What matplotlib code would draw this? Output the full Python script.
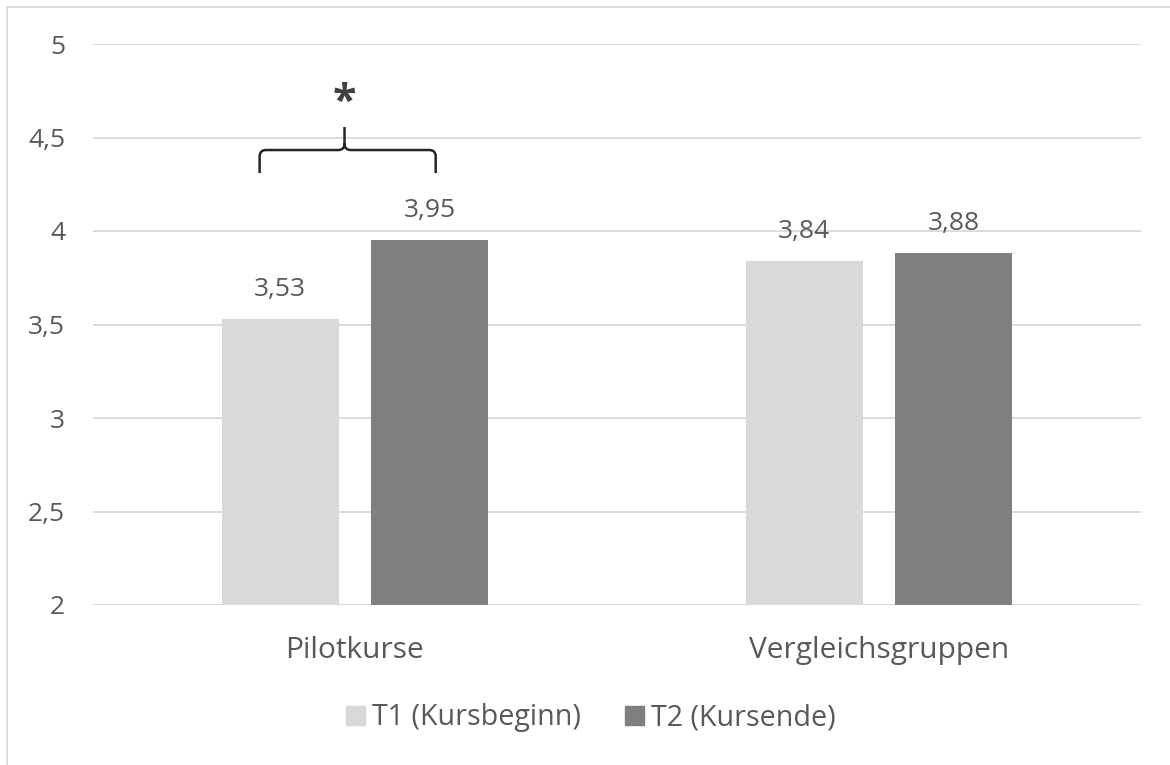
import matplotlib.pyplot as plt
import numpy as np
from matplotlib.path import Path
from matplotlib.patches import PathPatch, Rectangle
from matplotlib.lines import Line2D

plt.rcParams['font.family'] = ['Open Sans', 'DejaVu Sans']

groups = ['Pilotkurse', 'Vergleichsgruppen']
series = ['T1 (Kursbeginn)', 'T2 (Kursende)']
t1_values = [3.53, 3.84]
t2_values = [3.95, 3.88]
colors = ['#D9D9D9', '#7F7F7F']
text_col = '#595959'

fig = plt.figure(figsize=(11.7, 7.65), dpi=100)
ax = fig.add_axes([93 / 1170, 1 - 605 / 765, 1048 / 1170, 561 / 765])

x = np.arange(len(groups))
width = 0.2233
offset = 0.143
for vals, dx, c in [(t1_values, -offset, colors[0]), (t2_values, offset, colors[1])]:
    bars = ax.bar(x + dx, vals, width=width, bottom=0, color=c, zorder=2)
    for b, v in zip(bars, vals):
        ax.annotate(f'{v:.2f}'.replace('.', ','), (b.get_x() + b.get_width() / 2, v),
                    xytext=(0, 21.5), textcoords='offset points', ha='center', va='center',
                    fontsize=19, color=text_col)

ax.set_xlim(-0.5, 1.5)
ax.set_ylim(2, 5)
ax.set_yticks(np.arange(2, 5.01, 0.5))
ax.set_yticklabels([f'{t:g}'.replace('.', ',') for t in np.arange(2, 5.01, 0.5)])
ax.set_xticks(x)
ax.set_xticklabels(groups)
ax.tick_params(axis='y', length=0, pad=20, labelsize=19, labelcolor=text_col)
ax.tick_params(axis='x', length=0, pad=22.5, labelsize=21.5, labelcolor=text_col)
ax.grid(axis='y', color='#D9D9D9', linewidth=1.3, zorder=0)
ax.set_axisbelow(True)
for s in ax.spines.values():
    s.set_visible(False)

# significance brace over Pilotkurse
xl, xr, xc = -0.182, 0.154, -0.02
yb, ym, yt = 4.31, 4.433, 4.556
rx, ry = 0.012, 0.035
verts = [(xl, yb), (xl, ym - ry), (xl, ym), (xl + rx, ym),
         (xc - rx, ym), (xc, ym), (xc, ym + ry),
         (xc, yt),
         (xc, ym + ry), (xc, ym), (xc + rx, ym),
         (xr - rx, ym), (xr, ym), (xr, ym - ry), (xr, yb)]
codes = [Path.MOVETO, Path.LINETO, Path.CURVE3, Path.CURVE3,
         Path.LINETO, Path.CURVE3, Path.CURVE3,
         Path.LINETO,
         Path.MOVETO, Path.CURVE3, Path.CURVE3,
         Path.LINETO, Path.CURVE3, Path.CURVE3, Path.LINETO]
ax.add_patch(PathPatch(Path(verts, codes), fill=False, edgecolor='#262626', linewidth=1.8,
                       clip_on=False, zorder=3))
ax.text(xc, 4.68, '*', ha='center', va='center', fontsize=31, fontweight='bold', color='#404040')

handles = [Rectangle((0, 0), 1, 1, color=c) for c in colors]
fig.legend(handles, series, loc='center', bbox_to_anchor=(0.505, 1 - 718 / 765), ncol=2,
           frameon=False, fontsize=20.6, labelcolor=text_col, handlelength=0.65,
           handleheight=0.65, handletextpad=0.25, columnspacing=1.55)

fig.add_artist(Line2D([7 / 1170, 7 / 1170], [0, 1 - 7 / 765], color='#D9D9D9', linewidth=1.3))
fig.add_artist(Line2D([7 / 1170, 1], [1 - 7 / 765, 1 - 7 / 765], color='#D9D9D9', linewidth=1.3))

fig.savefig('out.png', dpi=100)
